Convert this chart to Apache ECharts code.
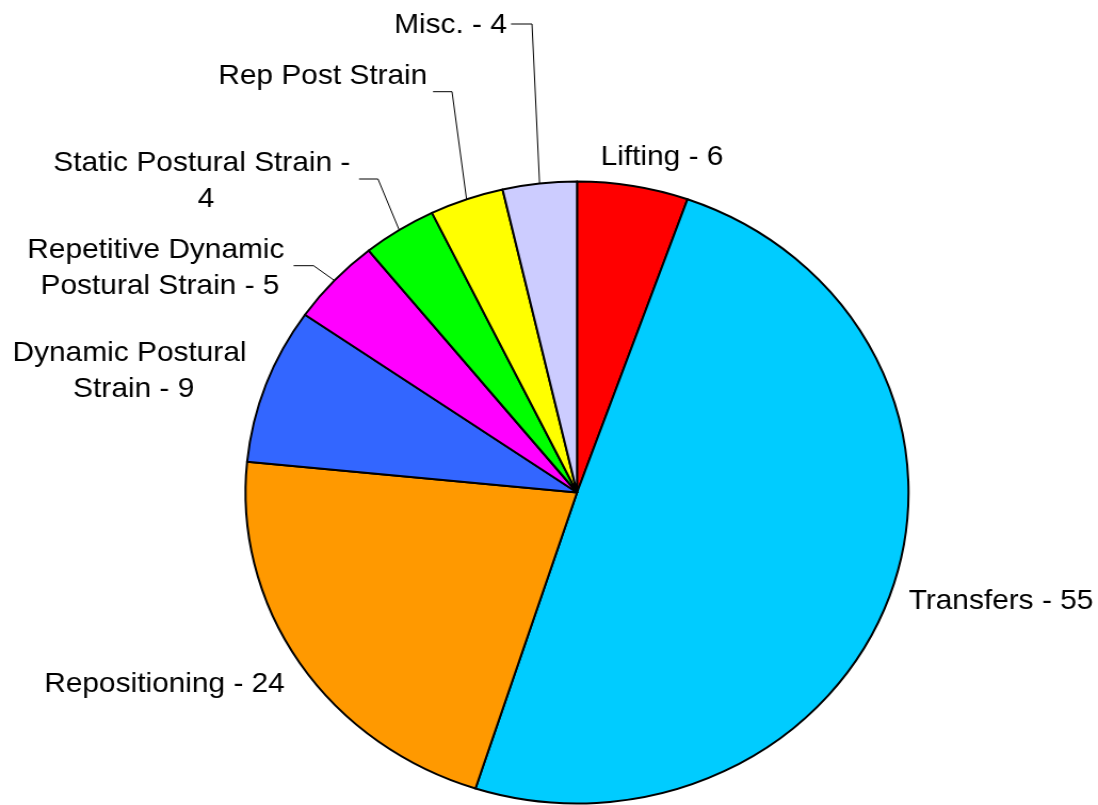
<!DOCTYPE html>
<html>
<head>
<meta charset="utf-8">
<script src="https://cdn.jsdelivr.net/npm/echarts@6/dist/echarts.min.js"></script>
<style>
html,body{margin:0;padding:0;background:#ffffff;overflow:hidden;}
#wrap{width:1098px;height:805px;overflow:hidden;position:relative;}
#chart{width:1030px;height:805px;transform:scaleX(1.066);transform-origin:0 0;}
</style>
</head>
<body>
<div id="wrap"><div id="chart"></div></div>
<script>
// ---- data ----
const categories = ['Lifting', 'Transfers', 'Repositioning', 'Dynamic Postural Strain',
  'Repetitive Dynamic Postural Strain', 'Static Postural Strain', 'Rep Post Strain', 'Misc.'];
const values = [6, 55, 24, 9, 5, 4, 4, 4];
const showValue = [true, true, true, true, true, true, false, true];

// ---- styles / layout ----
const colors = ['#FF0000', '#00CCFF', '#FF9900', '#3366FF', '#FF00FF', '#00FF00', '#FFFF00', '#CCCCFF'];
const SX = 1.066; // horizontal stretch of the original picture
// label centres in page pixels
const labelAnchors = [[662, 157], [1001, 601], [164.5, 684], [133.7, 371.5],
  [160, 268.5], [206, 181.5], [322.8, 76], [450.5, 25.5]];
// leader line bend and end points in page pixels (null: no leader)
const leaders = [null, null, null, null,
  [313.6, 265.7, 293.6, 265.7], [378, 179, 359, 179], [452, 91.7, 433, 91.7], [532, 24, 511, 24]];

const chart = echarts.init(document.getElementById('chart'), null, {renderer: 'canvas'});

const seriesData = categories.map((name, i) => ({
  name: name,
  value: values[i],
  itemStyle: {color: colors[i]},
  labelLine: {show: leaders[i] !== null}
}));

chart.setOption({
  animation: false,
  backgroundColor: '#ffffff',
  series: [{
    type: 'pie',
    center: [577 / SX, 492.5],
    radius: 311,
    startAngle: 90,
    clockwise: true,
    avoidLabelOverlap: false,
    silent: true,
    data: seriesData,
    itemStyle: {borderColor: '#000000', borderWidth: 2},
    label: {
      show: true,
      position: 'outside',
      color: '#000000',
      fontFamily: '"Liberation Sans", Arial, sans-serif',
      fontSize: 28,
      lineHeight: 36,
      width: 290,
      overflow: 'break',
      formatter: (p) => showValue[p.dataIndex] ? (p.name + ' - ' + p.value) : p.name
    },
    labelLine: {
      show: true,
      smooth: false,
      lineStyle: {color: '#000000', width: 1}
    },
    emphasis: {disabled: true},
    labelLayout: function (p) {
      const i = p.dataIndex;
      const a = labelAnchors[i];
      const res = {x: a[0] / SX, y: a[1], align: 'center', verticalAlign: 'middle'};
      const l = leaders[i];
      if (l && p.labelLinePoints) {
        res.labelLinePoints = [p.labelLinePoints[0], [l[0] / SX, l[1]], [l[2] / SX, l[3]]];
      }
      return res;
    }
  }]
});
</script>
</body>
</html>
